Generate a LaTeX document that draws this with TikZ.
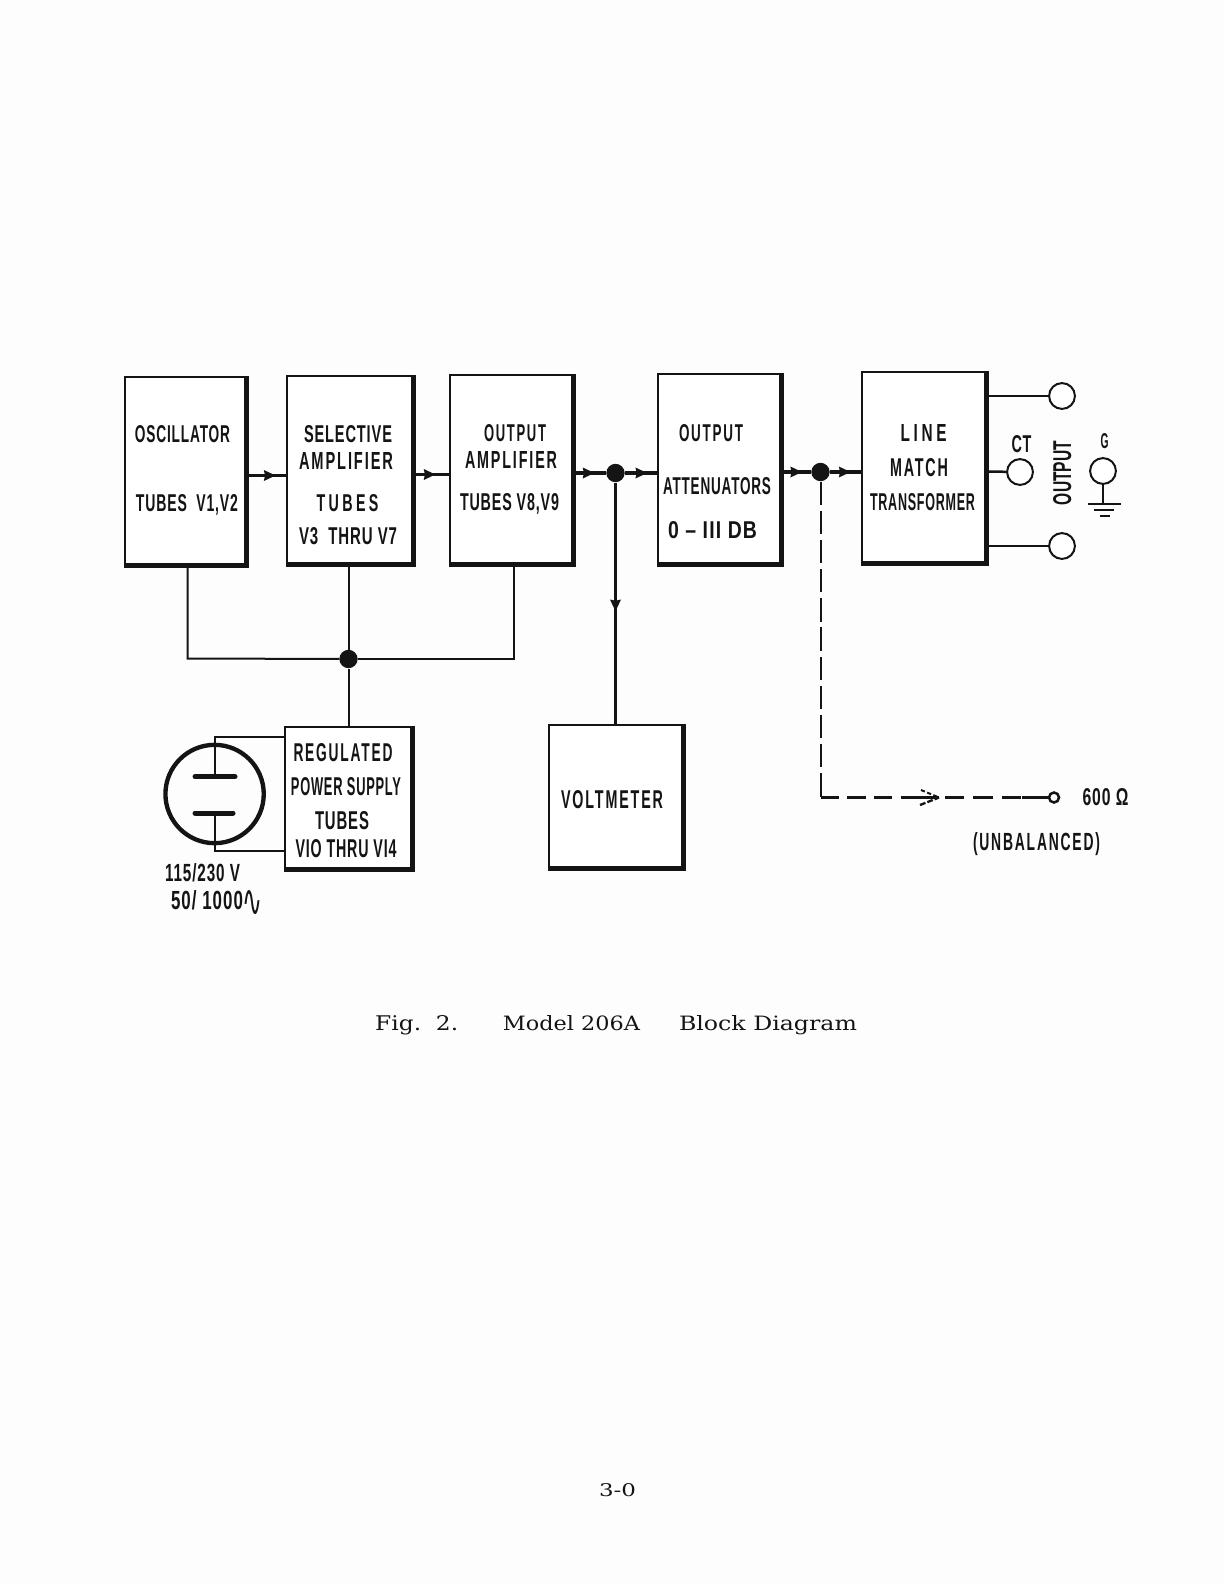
\documentclass[tikz,border=0pt]{standalone}
\usepackage{fontspec}
\usepackage{graphicx}
\usetikzlibrary{decorations.markings}
\setmainfont{Liberation Sans}
\newfontfamily\capfont{DejaVu Serif}
\newfontfamily\symfont{DejaVu Sans}
\newdimen\upx \upx=0.6pt
\definecolor{ink}{HTML}{141414}
\definecolor{paper}{HTML}{FDFDFD}
\tikzset{
  blockbox/.style={draw=ink,line width=1.5pt,inner sep=0pt,fill=white},
  heavy/.style={draw=ink,line width=3.2pt,line cap=butt,line join=miter},
  bus/.style={draw=ink,line width=1.2pt},
  feed/.style={draw=ink,line width=1.8pt},
  lab/.style={anchor=base,inner sep=0pt,text=ink,font=\bfseries},
  capt/.style={anchor=base,inner sep=0pt,text=ink,font=\capfont},
  dot/.style={circle,fill=ink,inner sep=0pt,minimum size=11pt},
  term/.style={circle,draw=ink,line width=1.2pt,fill=white,inner sep=0pt,minimum size=15.5pt},
  smallterm/.style={circle,draw=ink,line width=1.5pt,fill=white,inner sep=0pt,minimum size=6pt},
  tip at/.style={postaction={decorate,decoration={markings,mark=at position #1 with {\fill[ink] (0.5pt,0pt) -- (-6.5pt,3.3pt) -- (-5.8pt,0pt) -- (-6.5pt,-3.3pt) -- cycle;}}}}
}
% name, x1, y1, x2, y2 in picture units
\newcommand\blk[5]{%
  \pgfmathsetmacro\bw{(#4-#2)*0.6}\pgfmathsetmacro\bh{(#5-#3)*0.6}%
  \node[blockbox,minimum width=\bw pt,minimum height=\bh pt] (#1) at ({(#2+#4)/2},{(#3+#5)/2}) {};
  \draw[heavy] (#1.north east) -- (#1.south east) -- (#1.south west);
}
% name, centre x, baseline y, width, height, text
\newcommand\lb[6]{\node[lab] (#1) at (#2,#3) {\resizebox{#4\upx}{#5\upx}{\addfontfeature{LetterSpace=6}#6}};}
\newcommand\lbm[6]{\node[lab] (#1) at (#2,#3) {\resizebox{#4\upx}{#5\upx}{\addfontfeature{LetterSpace=13}#6}};}
\newcommand\lbs[6]{\node[lab] (#1) at (#2,#3) {\resizebox{#4\upx}{#5\upx}{\addfontfeature{LetterSpace=24}#6}};}
\newcommand\cpt[6]{\node[capt] (#1) at (#2,#3) {\resizebox{#4\upx}{#5\upx}{#6}};}
\begin{document}
\begin{tikzpicture}[x=0.6pt,y=-0.6pt]
\useasboundingbox[fill=paper] (0,0) rectangle (1224,1584);

% blocks
\blk{osc}{125}{377}{245}{564}
\blk{sel}{287}{376}{412}{563}
\blk{amp}{450}{375}{572}{563}
\blk{att}{658}{374}{780}{563}
\blk{line}{862}{372}{985}{562}
\blk{reg}{285}{727}{411}{868}
\blk{volt}{549}{725}{682}{867}

% levels used by connectors
\coordinate (lvA) at (0,475.5);
\coordinate (lvB) at (0,474.5);
\coordinate (lvC) at (0,473);
\coordinate (lvD) at (0,472);
\coordinate (lvBus) at (0,658.5);
\coordinate (lvTop) at (0,396);
\coordinate (lvMid) at (0,471.5);
\coordinate (lvBot) at (0,546);
\coordinate (lvUnb) at (0,797.5);

% junctions
\node[dot] (j1) at (615.5,473) {};
\node[dot] (j2) at (820.5,472) {};
\node[dot] (j3) at (348.5,659) {};

% signal path
\draw[feed,tip at=0.72] (osc.east |- lvA) -- (sel.west |- lvA);
\draw[feed,line width=2.2pt,tip at=0.6] (sel.east |- lvB) -- (amp.west |- lvB);
\draw[feed,line width=2.2pt,tip at=0.62] (amp.east |- lvC) -- (j1);
\draw[feed,line width=2.2pt,tip at=0.67] (j1) -- (att.west |- lvC);
\draw[feed,line width=2.2pt,tip at=0.67] (att.east |- lvD) -- (j2);
\draw[feed,line width=2.2pt,tip at=0.64] (j2) -- (line.west |- lvD);

% voltmeter branch
\draw[bus,line width=1.4pt,tip at=0.53] (j1) -- (j1 |- volt.north);

% power bus
\coordinate (oscdrop) at (187.5,566);
\coordinate (ampdrop) at (514,565);
\draw[bus] (oscdrop) -- (oscdrop |- lvBus) -- (j3);
\draw[bus] (ampdrop) -- (ampdrop |- j3) -- (j3);
\draw[bus] (j3 |- sel.south) -- (j3);
\draw[bus] (j3) -- (j3 |- reg.north);

% tube symbol
\node[circle,draw=ink,line width=2.6pt,inner sep=0pt,minimum size=59pt] (tube) at (214.6,794) {};
\coordinate (upwire) at (214.6,737);
\coordinate (lowwire) at (214.6,851);
\coordinate (plateA) at (214.6,776.7);
\coordinate (plateB) at (214.6,813);
\draw[bus] (reg.west |- upwire) -- (upwire) -- (plateA);
\draw[bus] (reg.west |- lowwire) -- (lowwire) -- (plateB);
\draw[draw=ink,line width=3pt,line cap=round] (195,776.7) -- (235,776.7);
\draw[draw=ink,line width=3pt,line cap=round] (195,813) -- (233,813);

% output terminals
\node[term] (tTop) at (1062,396) {};
\node[term] (tCT) at (1020,472) {};
\node[term] (tBot) at (1062,546) {};
\node[term] (tG) at (1103,471) {};
\draw[bus] (line.east |- lvTop) -- (tTop);
\draw[bus,line width=1.5pt] (line.east |- lvMid) -- (tCT);
\draw[bus] (line.east |- lvBot) -- (tBot);
\coordinate (gnd) at (1103,504);
\draw[bus] (tG) -- (gnd);
\draw[bus] (1088,504) -- (1121,504);
\draw[bus] (1094,510) -- (1114,510);
\draw[bus,line width=1.5pt] (1100,516) -- (1110,516);

% unbalanced output
\node[smallterm] (tU) at (1054,797.5) {};
\coordinate (corner) at (j2 |- lvUnb);
\coordinate (tail) at (1022,797.5);
\coordinate (openA) at (914,797.5);
\coordinate (openB) at (939,797.5);
\coordinate (openC) at (945,797.5);
\draw[bus,dash pattern=on 14pt off 3.5pt] (j2) -- (corner);
\draw[bus,line width=1.6pt,dash pattern=on 11pt off 5pt] (corner) -- (openA);
\draw[bus,line width=1.4pt] (openA) -- (openB);
\draw[bus,line width=1.2pt,dash pattern=on 2.5pt off 1.5pt] (921,790) -- (openB);
\draw[bus,line width=1.4pt,dash pattern=on 3.5pt off 1.2pt] (920,805) -- (openB);
\draw[bus,line width=1.6pt,dash pattern=on 11.5pt off 5.5pt] (openC) -- (tail);
\draw[bus,line width=1.6pt] (tail) -- (tU);

% labels in blocks
\lb{t1}{182.5}{442.7}{95}{17}{OSCILLATOR}
\lb{t2}{187}{511.7}{102}{17}{TUBES\ \ V1,V2}
\lb{t3}{348}{442}{88}{17}{SELECTIVE}
\lbm{t4}{346}{469}{94}{17}{AMPLIFIER}
\lbs{t5}{347.5}{511.7}{62}{17}{TUBES}
\lb{t6}{348}{544}{98}{17}{V3\ \ THRU V7}
\lbm{t7}{515}{441.7}{62}{17}{OUTPUT}
\lbm{t8}{511}{468}{92}{17}{AMPLIFIER}
\lb{t9}{509.5}{510}{99}{17}{TUBES V8,V9}
\lbm{t10}{711}{441}{64}{17}{OUTPUT}
\lb{t11}{717}{494}{108}{17}{ATTENUATORS}
\lb{t12}{712.5}{538}{89}{17}{0 -- III DB}
\lbs{t13}{923.5}{441}{46}{17}{LINE}
\lbm{t14}{919}{476}{58}{18}{MATCH}
\lb{t15}{922.5}{510}{105}{17}{TRANSFORMER}
\lbm{t16}{343}{761.7}{99}{18}{REGULATED}
\lb{t17}{346}{795}{110}{18}{POWER SUPPLY}
\lb{t18}{342}{829}{54}{18}{TUBES}
\lb{t19}{346}{857}{101}{18}{VIO THRU VI4}
\lbm{t20}{612}{808}{102}{18}{VOLTMETER}
% terminal labels
\lb{t21}{1021.5}{452}{20}{17}{CT}
\lb{t22}{1104.5}{448}{8}{15}{G}
\node[lab,rotate=90] (t23) at (1071,473) {\resizebox{64\upx}{18\upx}{OUTPUT}};
\lb{t24}{202.5}{881.7}{75}{18}{115/230 V}
\lb{t25}{207}{909}{72}{19}{50/ 1000}
\node[lab,font=\symfont] (t25b) at (252.5,916) {\resizebox{20\upx}{26\upx}{∿}};
\lb{t26}{1105.5}{805.7}{46}{17}{600 Ω}
\lbm{t27}{1036.5}{850}{127}{18}{(UNBALANCED)}

% caption and page number
\cpt{c1}{416.7}{1030}{83}{15}{Fig.\ \ 2.}
\cpt{c2}{571.5}{1030}{137}{15}{Model 206A}
\cpt{c3}{768}{1030}{178}{15}{Block Diagram}
\cpt{c4}{617.5}{1496.7}{37}{13}{3-0}
\end{tikzpicture}
\end{document}
